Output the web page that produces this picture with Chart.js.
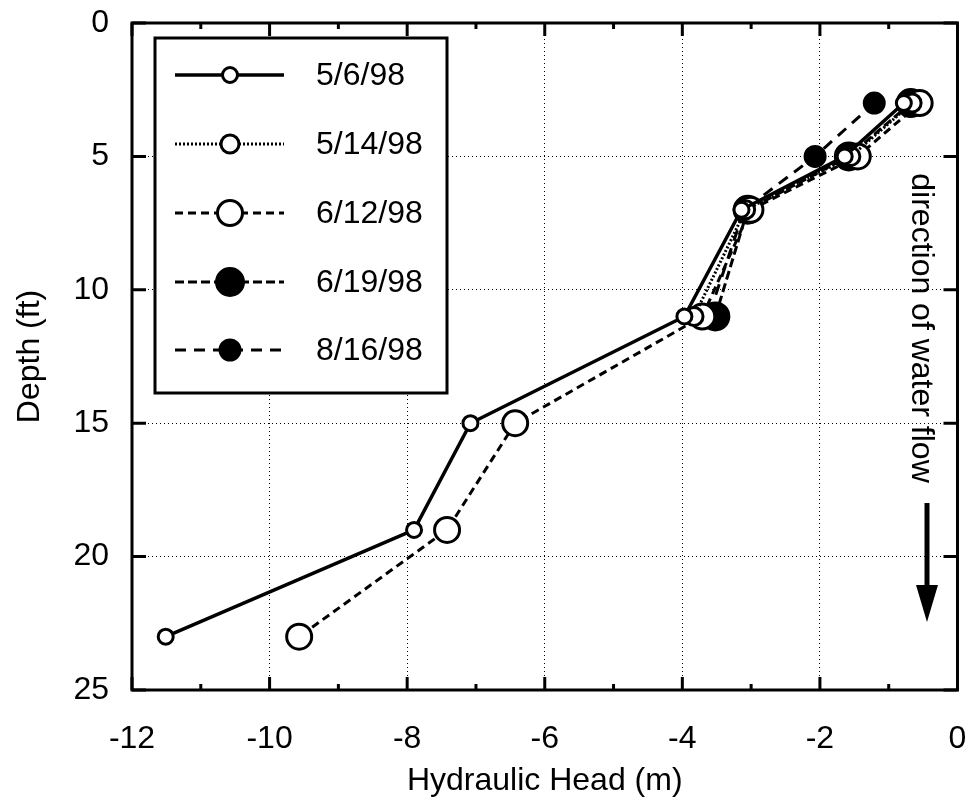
<!DOCTYPE html>
<html>
<head>
<meta charset="utf-8">
<script src="https://cdn.jsdelivr.net/npm/chart.js@4.4.1/dist/chart.umd.min.js"></script>
<style>
  html, body { margin: 0; padding: 0; background: #fff; }
  #wrap { width: 974px; height: 806px; position: relative; }
</style>
</head>
<body>
<div id="wrap"><canvas id="c" width="974" height="806"></canvas></div>
<script>
// ---- data ----
const depthsFull = [3, 5, 7, 11, 15, 19, 23];
const depthsShallow = [3, 5, 7, 11];
const seriesLabels = ['5/6/98', '5/14/98', '6/12/98', '6/19/98', '8/16/98'];
const head_050698 = [-0.78, -1.64, -3.14, -3.97, -7.08, -7.90, -11.51];
const head_051498 = [-0.66, -1.55, -3.08, -3.83];
const head_061298 = [-0.55, -1.45, -3.01, -3.71, -6.43, -7.42, -9.57];
const head_061998 = [-0.68, -1.58, -3.05, -3.52];
const head_081698 = [-1.21, -2.07, -3.10, -3.62];
const xTicks = [-12, -10, -8, -6, -4, -2, 0];
const yTicks = [0, 5, 10, 15, 20, 25];
const flowNote = 'direction of water flow';

const FONT = '"Liberation Sans", Arial, Helvetica, sans-serif';
const FS = 32;

function pts(xs, ys) { return xs.map((x, i) => ({ x: x, y: ys[i] })); }

const styles = [
  { dash: [], lw: 3.5, r: 7.5, fill: '#fff' },
  { dash: [2, 2], lw: 3, r: 9, fill: '#fff' },
  { dash: [8, 5], lw: 3, r: 12.5, fill: '#fff' },
  { dash: [9, 4], lw: 3, r: 13.5, fill: '#000' },
  { dash: [11, 8], lw: 3, r: 10, fill: '#000' }
];
const dataSets = [
  pts(head_050698, depthsFull),
  pts(head_051498, depthsShallow),
  pts(head_061298, depthsFull),
  pts(head_061998, depthsShallow),
  pts(head_081698, depthsShallow)
];

const datasets = dataSets.map((d, i) => ({
  label: seriesLabels[i],
  data: d,
  showLine: true,
  borderColor: '#000',
  borderWidth: styles[i].lw,
  borderDash: styles[i].dash,
  pointRadius: styles[i].r,
  pointHoverRadius: styles[i].r,
  pointBorderWidth: 3,
  pointBorderColor: '#000',
  pointBackgroundColor: styles[i].fill,
  backgroundColor: styles[i].fill,
  fill: false,
  tension: 0
}));

const decor = {
  id: 'decor',
  afterDatasetsDraw(chart) {
    const ctx = chart.ctx;
    const a = chart.chartArea;
    const xs = chart.scales.x, ys = chart.scales.y;
    ctx.save();
    ctx.strokeStyle = '#000';
    ctx.setLineDash([]);
    // ticks inward
    ctx.lineWidth = 3;
    for (let v = -12; v <= 0; v++) {
      const px = xs.getPixelForValue(v);
      const len = (v % 2 === 0) ? 13 : 6;
      ctx.beginPath();
      ctx.moveTo(px, a.bottom); ctx.lineTo(px, a.bottom - len);
      ctx.moveTo(px, a.top); ctx.lineTo(px, a.top + len);
      ctx.stroke();
    }
    yTicks.forEach(v => {
      const py = ys.getPixelForValue(v);
      ctx.beginPath();
      ctx.moveTo(a.left, py); ctx.lineTo(a.left + 14, py);
      ctx.moveTo(a.right, py); ctx.lineTo(a.right - 14, py);
      ctx.stroke();
    });
    // frame
    ctx.lineWidth = 3;
    ctx.strokeRect(a.left, a.top, a.right - a.left, a.bottom - a.top);

    // legend
    const L = { x: 155, y: 38, w: 292, h: 355 };
    ctx.fillStyle = '#fff';
    ctx.fillRect(L.x, L.y, L.w, L.h);
    ctx.lineWidth = 3;
    ctx.strokeRect(L.x, L.y, L.w, L.h);
    const rows = [75, 144, 213, 282, 350];
    chart.data.datasets.forEach((ds, i) => {
      const yy = rows[i];
      ctx.lineWidth = ds.borderWidth;
      ctx.setLineDash(ds.borderDash);
      ctx.beginPath();
      ctx.moveTo(175, yy); ctx.lineTo(284, yy);
      ctx.stroke();
      ctx.setLineDash([]);
      ctx.beginPath();
      ctx.arc(230, yy, ds.pointRadius, 0, Math.PI * 2);
      ctx.fillStyle = ds.pointBackgroundColor;
      ctx.fill();
      ctx.lineWidth = ds.pointBorderWidth;
      ctx.stroke();
      ctx.fillStyle = '#000';
      ctx.font = FS + 'px ' + FONT;
      ctx.textAlign = 'left';
      ctx.textBaseline = 'middle';
      ctx.fillText(ds.label, 316, yy + 1);
    });

    // flow annotation
    ctx.save();
    ctx.translate(921, 328);
    ctx.rotate(Math.PI / 2);
    ctx.font = FS + 'px ' + FONT;
    ctx.fillStyle = '#000';
    ctx.textAlign = 'center';
    ctx.textBaseline = 'middle';
    ctx.fillText(flowNote, 0, 0);
    ctx.restore();
    // arrow
    ctx.lineWidth = 5;
    ctx.beginPath();
    ctx.moveTo(927, 503); ctx.lineTo(927, 590);
    ctx.stroke();
    ctx.fillStyle = '#000';
    ctx.beginPath();
    ctx.moveTo(916, 585); ctx.lineTo(938, 585); ctx.lineTo(927, 622);
    ctx.closePath();
    ctx.fill();
    ctx.restore();
  }
};

new Chart(document.getElementById('c'), {
  type: 'scatter',
  data: { datasets: datasets },
  options: {
    responsive: false,
    animation: false,
    events: [],
    layout: { padding: { left: 0, right: 8, top: 23, bottom: 0 } },
    plugins: { legend: { display: false }, tooltip: { enabled: false } },
    scales: {
      x: {
        type: 'linear', min: -12, max: 0,
        afterBuildTicks: s => { s.ticks = xTicks.map(v => ({ value: v })); },
        afterFit: s => { s.height = 116; s.paddingLeft = 0; s.paddingRight = 0; },
        ticks: { color: '#000', font: { family: FONT, size: FS }, padding: 30 },
        grid: { color: '#000', lineWidth: 1, drawTicks: false },
        border: { display: false, dash: [1, 3] },
        title: { display: true, text: 'Hydraulic Head (m)', color: '#000',
                 font: { family: FONT, size: FS }, padding: { top: 0, bottom: 6 } }
      },
      y: {
        type: 'linear', min: 0, max: 25, reverse: true,
        afterBuildTicks: s => { s.ticks = yTicks.map(v => ({ value: v })); },
        afterFit: s => { s.width = 132; s.paddingTop = 0; s.paddingBottom = 0; },
        ticks: { color: '#000', font: { family: FONT, size: FS }, padding: 23 },
        grid: { color: '#000', lineWidth: 1, drawTicks: false },
        border: { display: false, dash: [1, 3] },
        title: { display: true, text: 'Depth (ft)', color: '#000',
                 font: { family: FONT, size: FS }, padding: { top: 11, bottom: 0 } }
      }
    }
  },
  plugins: [decor]
});
</script>
</body>
</html>
